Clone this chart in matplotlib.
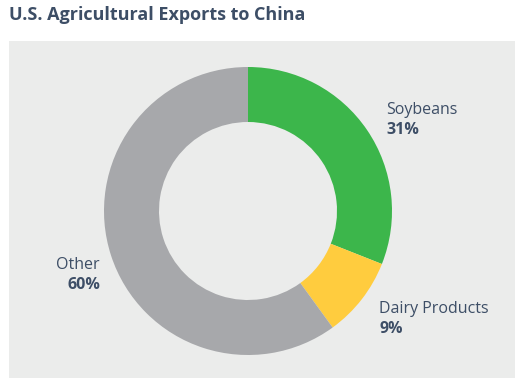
import matplotlib
matplotlib.use("Agg")
from matplotlib import pyplot as plt

categories = ["Soybeans", "Dairy Products", "Other"]
shares = [31, 9, 60]
slice_colors = ["#3cb64b", "#ffcc3e", "#a7a8ab"]

text_color = "#3d4e66"
panel_color = "#ebeceb"
plt.rcParams["font.family"] = ["Open Sans", "DejaVu Sans"]

fig = plt.figure(figsize=(5.27, 3.88), dpi=100)
fig.patch.set_facecolor("white")

# axes covers the grey panel, 1 data unit = 1 pixel
ax = fig.add_axes([9 / 527, 10 / 388, 506 / 527, 337 / 388])
ax.set_facecolor(panel_color)

ax.pie(shares, colors=slice_colors, startangle=90, counterclock=False,
       radius=144, center=(239, 167), frame=True,
       wedgeprops=dict(width=55, linewidth=0))

ax.set_xlim(0, 506)
ax.set_ylim(0, 337)
ax.set_aspect("equal")
ax.set_xticks([])
ax.set_yticks([])
for s in ax.spines.values():
    s.set_visible(False)

# label anchors (x, baseline y, alignment)
label_pos = [(377, 264, "left"), (370, 65, "left"), (91, 109, "right")]
for name, val, (x, y, ha) in zip(categories, shares, label_pos):
    ax.text(x, y, name, ha=ha, va="baseline", fontsize=11.5, color=text_color)
    ax.text(x, y - 20, str(val) + "%", ha=ha, va="baseline", fontsize=11.5,
            fontweight="bold", color=text_color)

fig.text(9 / 527, 1 - 20 / 388, "U.S. Agricultural Exports to China",
         ha="left", va="baseline", fontsize=13, fontweight="bold",
         color=text_color)

fig.savefig("out.png", dpi=100)
